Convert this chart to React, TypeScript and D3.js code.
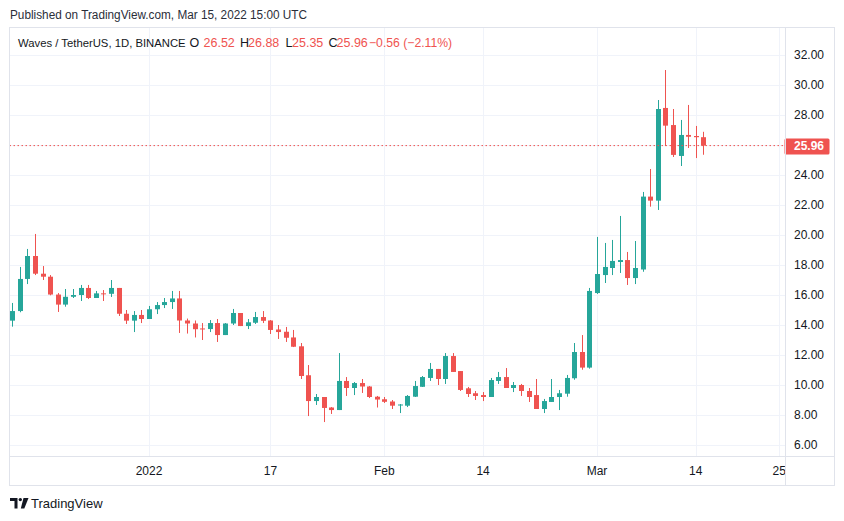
import React from "react";
import * as d3 from "d3";

const dates = [
  "2021-12-14","2021-12-15","2021-12-16","2021-12-17","2021-12-18","2021-12-19","2021-12-20","2021-12-21","2021-12-22","2021-12-23",
  "2021-12-24","2021-12-25","2021-12-26","2021-12-27","2021-12-28","2021-12-29","2021-12-30","2021-12-31",
  "2022-01-01","2022-01-02","2022-01-03","2022-01-04","2022-01-05","2022-01-06","2022-01-07","2022-01-08","2022-01-09","2022-01-10",
  "2022-01-11","2022-01-12","2022-01-13","2022-01-14","2022-01-15","2022-01-16","2022-01-17","2022-01-18","2022-01-19","2022-01-20",
  "2022-01-21","2022-01-22","2022-01-23","2022-01-24","2022-01-25","2022-01-26","2022-01-27","2022-01-28","2022-01-29","2022-01-30","2022-01-31",
  "2022-02-01","2022-02-02","2022-02-03","2022-02-04","2022-02-05","2022-02-06","2022-02-07","2022-02-08","2022-02-09","2022-02-10",
  "2022-02-11","2022-02-12","2022-02-13","2022-02-14","2022-02-15","2022-02-16","2022-02-17","2022-02-18","2022-02-19","2022-02-20",
  "2022-02-21","2022-02-22","2022-02-23","2022-02-24","2022-02-25","2022-02-26","2022-02-27","2022-02-28",
  "2022-03-01","2022-03-02","2022-03-03","2022-03-04","2022-03-05","2022-03-06","2022-03-07","2022-03-08","2022-03-09","2022-03-10",
  "2022-03-11","2022-03-12","2022-03-13","2022-03-14","2022-03-15",
];

const opens = [
  14.29,14.93,17.07,18.6,17.42,17.22,16.03,15.36,15.88,16.0,
  16.47,15.8,16.11,16.08,16.47,14.75,14.29,14.67,
  14.4,15.05,15.33,15.53,15.77,14.3,14.1,13.77,13.73,14.13,
  13.33,14.1,14.8,13.93,14.15,14.53,14.3,13.7,13.55,13.17,
  12.58,10.65,8.93,9.2,8.5,8.33,10.27,9.8,10.13,9.9,9.22,
  9.05,8.9,8.66,8.62,9.22,9.88,10.47,11.07,10.4,11.93,
  10.93,9.78,9.45,9.33,9.2,10.27,10.53,9.8,10.0,9.6,
  9.33,8.4,8.87,9.2,9.42,10.45,12.2,11.16,
  16.13,17.33,17.8,18.2,18.33,17.13,17.7,22.56,22.29,28.47,
  27.33,25.27,26.67,26.6,26.52,
];
const highs = [
  15.47,17.87,19.07,20.07,17.93,17.33,16.13,16.4,16.4,16.67,
  16.67,16.27,16.33,17.0,16.47,15.0,14.93,15.0,
  15.27,15.53,15.8,16.27,16.27,14.43,14.3,14.13,14.33,14.4,
  14.13,15.07,14.8,14.4,14.87,14.93,14.33,14.0,13.87,13.67,
  12.8,11.33,9.4,9.2,8.53,12.13,10.53,10.2,10.4,9.93,9.27,
  9.2,9.0,8.73,9.33,10.27,10.6,11.47,11.07,12.13,12.13,
  10.93,9.87,9.6,9.53,10.47,10.87,11.13,10.2,10.07,9.8,
  10.4,9.07,10.4,9.67,10.67,12.8,13.33,16.47,
  19.87,19.47,19.67,21.27,18.87,19.6,22.87,24.4,29.0,31.0,
  28.4,27.67,28.67,27.27,26.88,
];
const lows = [
  13.89,14.85,16.73,17.33,17.0,15.98,14.87,15.22,15.8,15.6,
  15.73,15.8,15.6,15.87,14.6,14.07,13.53,14.13,
  14.4,14.73,15.13,15.07,13.47,13.43,13.17,13.0,13.53,12.87,
  13.33,14.0,13.93,13.73,14.07,14.13,13.4,13.07,12.87,12.53,
  10.4,7.93,8.67,7.53,8.07,8.33,9.27,9.33,9.47,9.13,8.5,
  8.8,8.4,8.13,8.53,9.2,9.87,10.27,10.0,10.07,10.87,
  9.6,9.2,9.0,8.93,9.2,10.07,9.8,9.53,9.27,8.87,
  8.4,8.13,8.87,8.33,9.22,10.35,11.02,11.09,
  16.07,16.8,17.33,17.47,16.67,16.73,17.55,21.89,21.67,25.93,
  25.2,24.6,25.8,25.13,25.35,
];
const closes = [
  14.93,17.07,18.6,17.42,17.22,16.03,15.36,15.88,16.0,16.47,
  15.8,16.11,16.08,16.47,14.75,14.29,14.67,14.4,
  15.05,15.33,15.53,15.77,14.3,14.1,13.72,13.73,14.13,13.33,
  14.1,14.8,13.93,14.18,14.53,14.28,13.67,13.53,13.15,12.55,
  10.6,8.93,9.2,8.47,8.33,10.27,9.8,10.13,9.9,9.2,9.03,
  8.88,8.62,8.7,9.27,9.93,10.53,11.07,10.4,11.93,10.87,
  9.67,9.4,9.27,9.2,10.33,10.53,9.8,10.0,9.6,9.2,
  8.4,8.93,9.2,9.45,10.47,12.2,11.16,16.27,
  17.4,17.87,18.27,18.33,17.13,17.8,22.56,22.29,28.4,27.29,
  25.34,26.67,26.55,26.52,25.96,
];

const priceTicks = [6, 8, 10, 12, 14, 16, 18, 20, 22, 24, 28, 30, 32];
const gridValues = [6, 8, 10, 12, 14, 16, 18, 20, 22, 24, 26, 28, 30, 32];
const timeTickDates = ["2022-01-01", "2022-01-17", "2022-02-01", "2022-02-14", "2022-03-01", "2022-03-14", "2022-03-25"];
const timeTickLabels = ["2022", "17", "Feb", "14", "Mar", "14", "25"];
const lastPrice = 25.96;

const legendItems = [
  { t: "Waves / TetherUS, 1D, BINANCE", x: 18, c: "#131722", fs: 11.3 },
  { t: "O", x: 189.5, c: "#131722", fs: 12.5 },
  { t: "26.52", x: 203.5, c: "#ef5350", fs: 12.5 },
  { t: "H", x: 240, c: "#131722", fs: 12.5 },
  { t: "26.88", x: 248, c: "#ef5350", fs: 12.5 },
  { t: "L", x: 285.5, c: "#131722", fs: 12.5 },
  { t: "25.35", x: 292, c: "#ef5350", fs: 12.5 },
  { t: "C", x: 328.5, c: "#131722", fs: 12.5 },
  { t: "25.96", x: 336.5, c: "#ef5350", fs: 12.5 },
  { t: "\u22120.56 (\u22122.11%)", x: 369, c: "#ef5350", fs: 12.2 },
];

const UP = "#26a69a";
const DOWN = "#ef5350";
const GRID = "#f0f3fa";
const BORDER = "#e0e3eb";
const FONT = "'Liberation Sans', Arial, sans-serif";

export default function App() {
  const parse = d3.utcParse("%Y-%m-%d");
  const dts = dates.map((d) => parse(d) as Date);
  const x = d3.scaleUtc().domain([dts[0], dts[dts.length - 1]]).range([12.3, 703.3]);
  const y = d3.scaleLinear().domain([6, 32]).range([445, 55]);

  const left = 9.5, right = 785.5, top = 27.5, plotBottom = 456.5, bottom = 485.5, outerRight = 834.5;
  const bodyW = 5;

  return (
    <svg width={844} height={521} style={{ position: "absolute", left: 0, top: 0, background: "#fff" }} fontFamily={FONT}>
      <rect x={0} y={0} width={844} height={521} fill="#fff" />
      <text x={10} y={19} fontSize={12} fill="#2a2e39" textLength={297} lengthAdjust="spacingAndGlyphs">Published on TradingView.com, Mar 15, 2022 15:00 UTC</text>

      {/* grid */}
      {gridValues.map((v) => (
        <line key={"h" + v} x1={left} x2={right} y1={Math.round(y(v)) + 0.5} y2={Math.round(y(v)) + 0.5} stroke={GRID} />
      ))}
      {timeTickDates.map((d) => {
        const xx = Math.round(x(parse(d) as Date)) + 0.5;
        return <line key={"v" + d} x1={xx} x2={xx} y1={top} y2={plotBottom} stroke={GRID} />;
      })}

      {/* candles */}
      <g>
        {dts.map((d, i) => {
          const o = opens[i], h = highs[i], l = lows[i], c = closes[i];
          const col = c >= o ? UP : DOWN;
          const cx = Math.round(x(d));
          const yTop = y(Math.max(o, c));
          const yBot = y(Math.min(o, c));
          const bh = Math.max(1, yBot - yTop);
          return (
            <g key={i}>
              <rect x={cx} y={y(h)} width={1} height={Math.max(1, y(l) - y(h))} fill={col} />
              <rect x={cx - 2} y={yTop} width={bodyW} height={bh} fill={col} />
            </g>
          );
        })}
      </g>

      {/* last price line */}
      <line x1={left} x2={right} y1={y(lastPrice)} y2={y(lastPrice)} stroke={DOWN} strokeWidth={1} strokeDasharray="1.5,2.5" />

      {/* legend */}
      {legendItems.map((it, i) => (
        <text key={i} x={it.x} y={47} fontSize={it.fs} fill={it.c}>{it.t}</text>
      ))}

      {/* time axis labels */}
      {timeTickDates.map((d, i) => (
        <text key={"tl" + d} x={x(parse(d) as Date)} y={475} fontSize={12} fill="#131722" textAnchor="middle">{timeTickLabels[i]}</text>
      ))}

      {/* price axis background */}
      <rect x={right} y={top} width={outerRight - right} height={bottom - top} fill="#fff" />
      {priceTicks.map((v) => (
        <text key={"p" + v} x={794} y={y(v) + 4} fontSize={12} fill="#131722">{v.toFixed(2)}</text>
      ))}
      <rect x={784.5} y={138.5} width={45} height={16} rx={1.5} fill={DOWN} />
      <text x={794} y={y(lastPrice) + 4.5} fontSize={12} fontWeight="bold" fill="#fff">{lastPrice.toFixed(2)}</text>

      {/* borders */}
      <rect x={left} y={top} width={outerRight - left} height={bottom - top} fill="none" stroke={BORDER} />
      <line x1={right} x2={right} y1={top} y2={bottom} stroke={BORDER} />
      <line x1={left} x2={outerRight} y1={plotBottom} y2={plotBottom} stroke={BORDER} />

      {/* logo */}
      <g fill="#131722">
        <path d="M10,498 H17.5 V508.5 H14.5 V501 H10 Z" />
        <circle cx={20.3} cy={499.6} r={1.7} />
        <path d="M23.5,498 H28.5 L24.3,508.5 H20.8 Z" />
      </g>
      <text x={31} y={508} fontSize={13} fill="#131722">TradingView</text>
    </svg>
  );
}
